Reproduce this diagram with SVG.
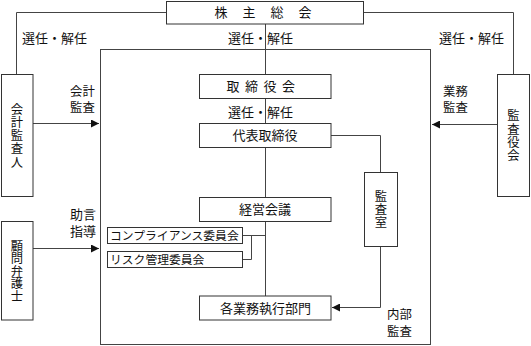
<svg xmlns="http://www.w3.org/2000/svg" width="531" height="346" viewBox="0 0 531 346">
<style>
.box{fill:#fff;stroke:#333;stroke-width:1}
.ln{fill:none;stroke:#444;stroke-width:1}
text{font-family:"Noto Sans CJK JP","Noto Sans",sans-serif;font-size:13px;fill:#111}
.m{text-anchor:middle}
.s{font-size:11.8px}
.t{font-size:12.4px}
.v{font-size:12.3px;text-anchor:middle;writing-mode:vertical-rl;letter-spacing:1px}
</style>
<defs>
<marker id="ah" viewBox="0 0 10 10" refX="10" refY="5" markerWidth="9" markerHeight="8" markerUnits="userSpaceOnUse" orient="auto">
<path d="M0,0L10,5L0,10z" fill="#111"/>
</marker>
</defs>
<rect x="100.5" y="49.5" width="330" height="295" fill="none" stroke="#444"/>
<g id="connectors">
<polyline class="ln" points="166,12.5 16.5,12.5 16.5,74"/>
<polyline class="ln" points="364,12.5 513.5,12.5 513.5,74"/>
<line class="ln" x1="265.5" y1="24" x2="265.5" y2="74"/>
<line class="ln" x1="265.5" y1="98.5" x2="265.5" y2="123"/>
<line class="ln" x1="265.5" y1="147.5" x2="265.5" y2="197"/>
<line class="ln" x1="265.5" y1="221.5" x2="265.5" y2="296"/>
<polyline class="ln" points="331,135.5 380.5,135.5 380.5,172.5"/>
<polyline class="ln" points="380.5,246.5 380.5,307.5 332,307.5" marker-end="url(#ah)"/>
<line class="ln" x1="33" y1="123.5" x2="99" y2="123.5" marker-end="url(#ah)"/>
<line class="ln" x1="497" y1="124.5" x2="432" y2="124.5" marker-end="url(#ah)"/>
<line class="ln" x1="33" y1="248.5" x2="99" y2="248.5" marker-end="url(#ah)"/>
<line class="ln" x1="242.5" y1="235.5" x2="265.5" y2="235.5"/>
<polyline class="ln" points="251.5,235.5 251.5,259.5 242.5,259.5"/>
</g>
<g id="labels">
<text x="22" y="43">選任・解任</text>
<text x="228" y="43">選任・解任</text>
<text x="439" y="43">選任・解任</text>
<text x="228" y="116.5">選任・解任</text>
<text class="t" x="70" y="95.5">会計<tspan x="70" dy="16.6">監査</tspan></text>
<text class="t" x="443" y="95.5">業務<tspan x="443" dy="16.6">監査</tspan></text>
<text x="70" y="218.5">助言<tspan x="70" dy="17.5">指導</tspan></text>
<text class="t" x="387" y="319">内部<tspan x="387" dy="16.6">監査</tspan></text>
</g>
<g id="kabunushi">
<rect class="box" x="166.5" y="1.5" width="197" height="22.5"/>
<text class="m" x="221" y="17">株<tspan x="249">主</tspan><tspan x="277">総</tspan><tspan x="305">会</tspan></text>
</g>
<g id="kaikeikansanin">
<rect class="box" x="1.5" y="74.5" width="31.5" height="122"/>
<text class="v" x="17" y="136">会計監査人</text>
</g>
<g id="kansayakukai">
<rect class="box" x="497.5" y="74.5" width="32" height="122"/>
<text class="v" x="513.5" y="136">監査役会</text>
</g>
<g id="komonbengoshi">
<rect class="box" x="1.5" y="221.5" width="31.5" height="98.5"/>
<text class="v" x="17" y="271" style="letter-spacing:0.2px">顧問弁護士</text>
</g>
<g id="torishimariyakukai">
<rect class="box" x="199.5" y="74.5" width="131.5" height="24"/>
<text class="m" x="233" y="91">取<tspan x="251.5">締</tspan><tspan x="270">役</tspan><tspan x="288.5">会</tspan></text>
</g>
<g id="daihyo">
<rect class="box" x="199.5" y="123.5" width="131.5" height="24"/>
<text class="m" x="265" y="140">代表取締役</text>
</g>
<g id="keieikaigi">
<rect class="box" x="199.5" y="197.5" width="131.5" height="24"/>
<text class="m" x="265" y="214">経営会議</text>
</g>
<g id="gyomu">
<rect class="box" x="199.5" y="296" width="131.5" height="24"/>
<text class="m" x="265.5" y="312.5">各業務執行部門</text>
</g>
<g id="kansashitsu">
<rect class="box" x="364.5" y="172.5" width="33" height="74"/>
<text class="v" x="381" y="210">監査室</text>
</g>
<g id="compliance">
<rect class="box" x="107.5" y="227.5" width="135" height="16"/>
<text class="s" x="110" y="240">コンプライアンス委員会</text>
</g>
<g id="risk">
<rect class="box" x="107.5" y="251.5" width="135" height="16"/>
<text class="s" x="110" y="264">リスク管理委員会</text>
</g>
</svg>
